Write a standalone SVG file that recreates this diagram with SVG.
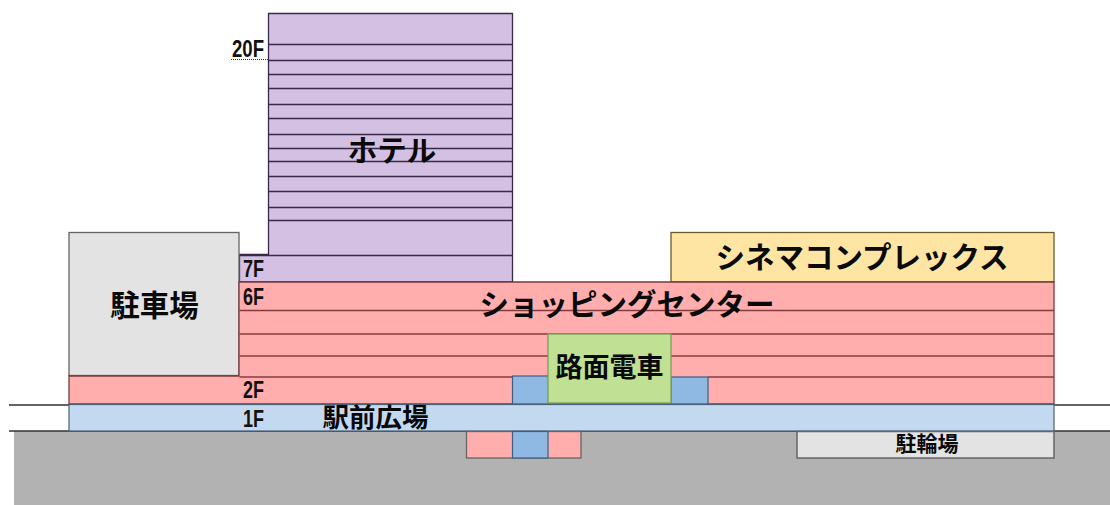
<svg xmlns="http://www.w3.org/2000/svg" width="1110" height="505" viewBox="0 0 1110 505">
<style>
.h{fill:#d3c0e2;stroke:#3a2a4a;stroke-width:1.3}
.s{fill:#ffadad;stroke:#7a3a3a;stroke-width:1.3}
.b{fill:#8fb9e2;stroke:#3f5f80;stroke-width:1.2}
.g{fill:#e3e3e3;stroke:#666;stroke-width:1.5}
.hl{stroke:#3a2a4a;stroke-width:1.4;fill:none}
.sl{stroke:#853c40;stroke-width:1.4;fill:none}
.t{font-family:"Noto Sans CJK JP",sans-serif;font-weight:700;fill:#0a0a0a;text-anchor:middle}
.f{font-family:"Liberation Sans",sans-serif;font-weight:700;fill:#111;font-size:23px}
</style>
<g id="ground">
<rect x="14" y="431" width="1096" height="74" fill="#b2b2b2"/>
<path d="M9 405H1110M9 431H1110" stroke="#333" stroke-width="1.3" fill="none"/>
</g>
<g id="hotel">
<path class="h" d="M268.500 13.500H512.500V282H239.500V254.500H268.500Z"/>
<path class="hl" d="M268.500 44.500H512.500M268.500 60.500H512.500M268.500 74.500H512.500M268.500 88.500H512.500M268.500 104.500H512.500M268.500 118.500H512.500M268.500 134.500H512.500M268.500 148.500H512.500M268.500 161.500H512.500M268.500 176.500H512.500M268.500 191.500H512.500M268.500 207.500H512.500M268.500 220.500H512.500M239.500 255.500H512.500"/>
<text class="t" x="392" y="161" font-size="29.500">ホテル</text>
<text class="f" x="232" y="57" textLength="32" lengthAdjust="spacingAndGlyphs">20F</text>
<path d="M231 59.500H268" stroke="#333" stroke-width="1" stroke-dasharray="1 1" fill="none"/>
<text class="f" x="243" y="277" textLength="21" lengthAdjust="spacingAndGlyphs">7F</text>
</g>
<g id="parking">
<rect x="69" y="232.500" width="170" height="143" fill="#e3e3e3" stroke="#666" stroke-width="1.300"/>
<text class="t" x="154.500" y="316" font-size="29.500">駐車場</text>
</g>
<g id="cinema">
<rect x="671" y="232.500" width="383" height="49.500" fill="#ffe5a3" stroke="#6b5a2a" stroke-width="1.300"/>
<text class="t" x="862" y="268" font-size="29.500">シネマコンプレックス</text>
</g>
<g id="shopping">
<path class="s" d="M239 282H1054V404H69V376H239Z"/>
<path class="sl" d="M239.500 310.500H1054M239.500 334H1054M239.500 356H548M671 356H1054M239.500 377H513M708 377H1054"/>
<text class="t" x="627" y="315" font-size="29.500">ショッピングセンター</text>
<text class="f" x="243" y="305" textLength="21" lengthAdjust="spacingAndGlyphs">6F</text>
<text class="f" x="243" y="398" textLength="21" lengthAdjust="spacingAndGlyphs">2F</text>
</g>
<g id="station-upper">
<rect class="b" x="512.500" y="376" width="36" height="28"/>
<rect class="b" x="671" y="377" width="37" height="27"/>
</g>
<g id="tram">
<rect x="548" y="334" width="123" height="69" fill="#c0e094" stroke="#7f9f55" stroke-width="1.300"/>
<text class="t" x="609.500" y="377" font-size="27">路面電車</text>
</g>
<g id="plaza">
<rect x="69" y="404.500" width="985" height="26.500" fill="#c3d9ef" stroke="#4a6078" stroke-width="1.200"/>
<text class="t" x="375.500" y="427" font-size="26.500">駅前広場</text>
<text class="f" x="243" y="427" textLength="21" lengthAdjust="spacingAndGlyphs">1F</text>
</g>
<g id="basement">
<rect x="466.500" y="431.500" width="114.500" height="26.500" fill="#ffadad" stroke="#666" stroke-width="1.300"/>
<rect class="b" x="512.500" y="431.500" width="35.500" height="26.500"/>
</g>
<g id="bicycle">
<rect class="g" x="797" y="431.500" width="257" height="26.500"/>
<text class="t" x="927" y="451" font-size="21">駐輪場</text>
</g>
</svg>
